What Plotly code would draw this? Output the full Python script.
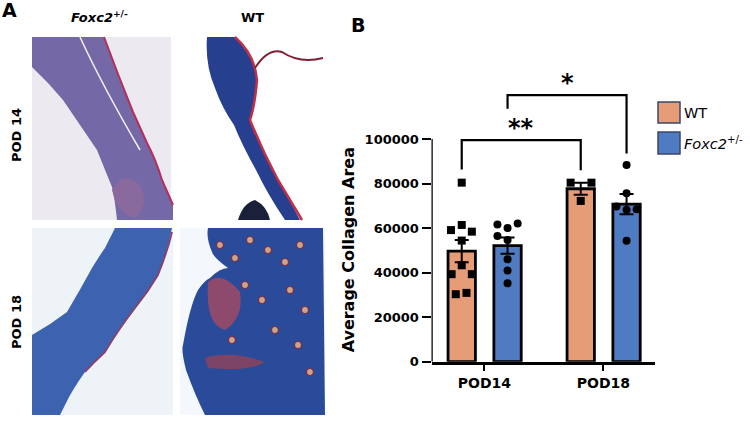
import numpy as np
import plotly.graph_objects as go

# ---- data ----
groups = ["POD14", "POD18"]
series = ["WT", "Foxc2+/-"]

wt_pod14 = [80400, 59100, 61400, 58400, 54400, 43300, 39300, 39300, 30300, 30900]
wt_pod18 = [80400, 80400, 72200]
fx_pod14 = [61600, 60000, 62100, 56500, 54700, 46000, 40900, 35200]
fx_pod18 = [88300, 75600, 69700, 68200, 68500, 54300]

# horizontal scatter of the dots inside each bar (x units)
wt_pod14_jit = [0, -0.09, 0, 0.085, 0, 0, -0.085, 0.085, -0.05, 0.04]
wt_pod18_jit = [-0.085, 0.09, 0]
fx_pod14_jit = [-0.085, 0, 0.085, -0.085, 0, 0, 0, 0]
fx_pod18_jit = [0, 0, -0.085, 0, 0.085, 0]

# significance brackets: (series, level, left leg end, right leg end, label)
sig = [
    ("WT", 99500, 86300, 86000, "**"),
    ("Foxc2+/-", 119700, 113600, 93500, "*"),
]

yticks = [0, 20000, 40000, 60000, 80000, 100000]

WT_COL = "#E69C76"
FX_COL = "#4E7BC1"
FONT = "DejaVu Sans"

offset = {"WT": -0.19, "Foxc2+/-": 0.195}
bw = 0.23
x_range = [-0.444, 1.434]
points = {
    "WT": [(wt_pod14, wt_pod14_jit), (wt_pod18, wt_pod18_jit)],
    "Foxc2+/-": [(fx_pod14, fx_pod14_jit), (fx_pod18, fx_pod18_jit)],
}
colors = {"WT": WT_COL, "Foxc2+/-": FX_COL}
symbols = {"WT": "square", "Foxc2+/-": "circle"}

fig = go.Figure()

for s in series:
    xs = [i + offset[s] for i in range(len(groups))]
    means = [np.mean(v) for v, _ in points[s]]
    sems = [np.std(v, ddof=1) / np.sqrt(len(v)) for v, _ in points[s]]
    fig.add_trace(go.Bar(
        x=xs, y=means, width=bw,
        marker=dict(color=colors[s], line=dict(color="black", width=2.8)),
        error_y=dict(type="data", array=sems, color="black", thickness=2, width=7),
        showlegend=False, xaxis="x", yaxis="y"))
    px, py = [], []
    for i, (v, jit) in enumerate(points[s]):
        px += [i + offset[s] + j for j in jit]
        py += list(v)
    fig.add_trace(go.Scatter(
        x=px, y=py, mode="markers",
        marker=dict(symbol=symbols[s], size=8, color="black"),
        showlegend=False, cliponaxis=False, xaxis="x", yaxis="y"))

shapes = []
anns = []

# y axis line only up to the top tick
shapes.append(dict(type="line", xref="x", yref="y", x0=x_range[0], x1=x_range[0],
                   y0=0, y1=yticks[-1], line=dict(color="black", width=2.5)))

# significance brackets
for s, top, l_end, r_end, lab in sig:
    xl = 0 + offset[s]
    xr = 1 + offset[s]
    path = f"M {xl},{l_end} L {xl},{top} L {xr},{top} L {xr},{r_end}"
    shapes.append(dict(type="path", path=path, xref="x", yref="y",
                       line=dict(color="black", width=2.2)))
    anns.append(dict(x=(xl + xr) / 2, y=top, xref="x", yref="y", text=lab,
                     showarrow=False, yanchor="bottom", yshift=-4,
                     font=dict(family=FONT, size=24, color="black", weight="bold")))

# axis title
anns.append(dict(x=348 / 750, y=50000, xref="paper", yref="y",
                 text="Average Collagen Area", textangle=-90, showarrow=False,
                 font=dict(family=FONT, size=16, color="black", weight="bold")))

# legend drawn by hand
leg_y = [(102, 123), (132, 154)]
leg_txt = ["WT", "<i>Foxc2</i><sup>+/-</sup>"]
for (ya, yb), s, t in zip(leg_y, series, leg_txt):
    shapes.append(dict(type="rect", xref="paper", yref="paper",
                       x0=658 / 750, x1=680 / 750,
                       y0=(423 - yb) / 423, y1=(423 - ya) / 423,
                       fillcolor=colors[s], line=dict(color="#3B4766", width=1.5)))
    anns.append(dict(x=682 / 750, y=(423 - (ya + yb) / 2) / 423,
                     xref="paper", yref="paper", text=t, showarrow=False,
                     xanchor="left", yanchor="middle",
                     font=dict(family=FONT, size=14.5, color="black")))

# ---- panel A: sketch of the stained sections ----
panels = [
    (32, 171, 37, 220, "#ECEAF0"),
    (179, 325, 37, 220, "#FFFFFF"),
    (32, 173, 228, 415, "#EEF3F8"),
    (180, 325, 228, 415, "#F4F7FB"),
]
for x0, x1, y0, y1, c in panels:
    shapes.append(dict(type="rect", xref="x2", yref="y2", x0=x0, x1=x1, y0=y0, y1=y1,
                       fillcolor=c, line=dict(width=0), layer="below"))

tissue = [
    # Foxc2 POD14
    ("M 32,37 L 104,37 Q 118,75 133,112 L 147,143 Q 156,160 162,180 L 173,205 L 173,220 "
     "L 117,220 Q 115,200 112,187 Q 105,170 97,150 Q 80,125 63,100 Q 48,82 32,67 Z",
     "#7468A6"),
    ("M 112,190 Q 122,170 140,185 Q 150,205 135,218 Q 118,215 112,190 Z", "#8A6A9E"),
    # WT POD14
    ("M 207,37 L 235,37 Q 255,55 257,80 Q 255,105 250,120 Q 262,150 278,180 "
     "Q 290,200 300,220 L 285,220 Q 268,195 256,170 Q 242,145 234,125 "
     "Q 222,108 215,88 Q 205,65 207,37 Z", "#263F8E"),
    ("M 238,220 Q 243,203 255,200 Q 267,206 270,220 Z", "#1A1F3A"),
    # Foxc2 POD18
    ("M 115,228 L 172,228 Q 168,250 158,275 Q 148,292 135,308 Q 118,330 105,352 "
     "Q 94,362 85,372 Q 72,390 65,405 L 60,415 L 32,415 L 32,335 Q 50,325 67,312 "
     "Q 80,290 92,268 Q 100,255 105,248 Q 110,238 115,228 Z", "#3C62B0"),
    # WT POD18
    ("M 208,228 L 323,228 L 325,415 L 205,415 Q 195,395 186,370 Q 181,350 183,345 "
     "Q 190,305 198,290 Q 205,280 210,278 Q 220,268 228,268 Q 214,258 212,252 "
     "Q 206,238 208,228 Z", "#2A4A9A"),
    ("M 208,282 Q 222,270 240,292 Q 244,318 225,330 Q 205,325 208,282 Z", "#8E4A6C"),
    ("M 205,358 Q 230,350 265,362 Q 250,372 208,368 Z", "#7E4466"),
]
for p, c in tissue:
    shapes.append(dict(type="path", path=p, xref="x2", yref="y2", fillcolor=c,
                       line=dict(width=0), layer="below"))

# hair follicles in the WT POD18 section
foll_x = [220, 235, 250, 268, 285, 300, 245, 262, 290, 305, 232, 275, 298, 310]
foll_y = [245, 258, 240, 250, 262, 245, 285, 300, 290, 310, 340, 330, 345, 372]
for fx, fy in zip(foll_x, foll_y):
    shapes.append(dict(type="circle", xref="x2", yref="y2",
                       x0=fx - 3.5, x1=fx + 3.5, y0=fy - 3.5, y1=fy + 3.5,
                       fillcolor="#C9A58E", line=dict(color="#7A2D45", width=1.2),
                       layer="below"))

edges = [
    ("M 104,37 Q 118,75 133,112 L 147,143 Q 156,160 162,180 L 173,205", "#B3305A", 2),
    ("M 80,37 Q 102,85 140,150", "#F4F2F6", 1.5),
    ("M 235,37 Q 255,55 257,80 Q 255,105 250,120 Q 262,150 278,180 Q 290,200 302,220",
     "#C23048", 2.5),
    ("M 255,68 Q 268,48 282,52 Q 300,64 323,58", "#7E1F33", 2),
    ("M 172,232 Q 168,250 158,275 Q 148,292 135,308 Q 118,330 105,352 Q 94,362 85,372",
     "#8B3F6A", 1.8),
]
for p, c, w in edges:
    shapes.append(dict(type="path", path=p, xref="x2", yref="y2",
                       line=dict(color=c, width=w), layer="below"))

lab_font = dict(family=FONT, size=13, color="black", weight="bold")
anns += [
    dict(x=9, y=10, xref="x2", yref="y2", text="A", showarrow=False,
         font=dict(family=FONT, size=19, color="black", weight="bold")),
    dict(x=99, y=17, xref="x2", yref="y2", text="<i>Foxc2</i><sup>+/-</sup>",
         showarrow=False, font=lab_font),
    dict(x=252, y=17, xref="x2", yref="y2", text="WT", showarrow=False, font=lab_font),
    dict(x=16, y=135, xref="x2", yref="y2", text="POD 14", textangle=-90,
         showarrow=False, font=lab_font),
    dict(x=16, y=322, xref="x2", yref="y2", text="POD 18", textangle=-90,
         showarrow=False, font=lab_font),
    dict(x=358 / 750, y=(423 - 12) / 423, xref="paper", yref="paper", text="B",
         showarrow=False, font=dict(family=FONT, size=19, color="black", weight="bold")),
]

fig.update_layout(
    width=750, height=423,
    margin=dict(l=0, r=0, t=0, b=0),
    paper_bgcolor="white", plot_bgcolor="white",
    showlegend=False,
    shapes=shapes, annotations=anns,
    xaxis=dict(domain=[431.5 / 750, 655 / 750], range=x_range,
               tickvals=[0, 1], ticktext=groups,
               showline=True, linecolor="black", linewidth=2.5,
               ticks="outside", ticklen=7, tickwidth=2, tickcolor="black",
               showgrid=False, zeroline=False, automargin=False,
               tickfont=dict(family=FONT, size=14, color="black", weight="bold")),
    yaxis=dict(domain=[(423 - 361.7) / 423, (423 - 80) / 423], range=[0, 126500],
               tickvals=yticks, ticktext=[str(v) for v in yticks],
               showline=False, ticks="outside", ticklen=9, tickwidth=2,
               tickcolor="black", showgrid=False, zeroline=False, automargin=False,
               tickfont=dict(family=FONT, size=13, color="black", weight="bold")),
    xaxis2=dict(domain=[0, 340 / 750], range=[0, 340], visible=False, anchor="y2"),
    yaxis2=dict(domain=[0, 1], range=[423, 0], visible=False, anchor="x2"),
)

# the page body has a default 8px margin; drop it so the figure fills the window
fig.write_html("out.html", config={"displayModeBar": False},
               post_script="document.body.style.margin='0px';")
